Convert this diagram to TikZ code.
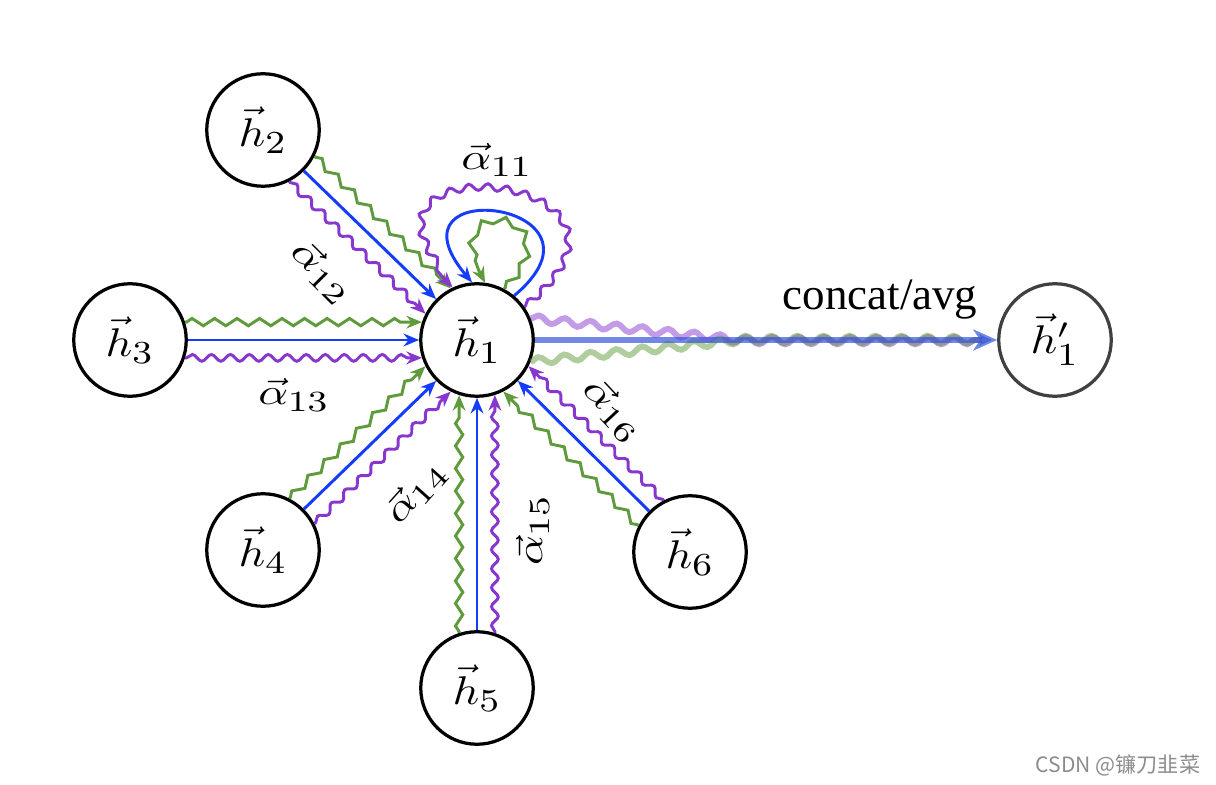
\documentclass[tikz,border=0pt]{standalone}
\usepackage{amsmath}
\usepackage{graphicx}
\usepackage{fontspec}
\newfontfamily\cjkfont{Noto Sans CJK SC}
\newfontfamily\timesfont{Liberation Serif}
\newcommand\idx[1]{_{\mbox{\fontsize{8}{9}\selectfont$#1$}}}
\newcommand\hv[2][]{\scalebox{3.3}[2.85]{$\vec{h}#1\idx{#2}$}}
\newcommand\av[1]{\scalebox{3.3}[2.6]{$\vec{\alpha}\idx{#1}$}}
\usetikzlibrary{arrows.meta,decorations.pathmorphing}
\definecolor{hblue}{RGB}{20,60,250}
\definecolor{hgreen}{RGB}{95,155,60}
\definecolor{hpurple}{RGB}{135,55,205}
\definecolor{oblue}{RGB}{55,85,215}

\begin{document}
\begin{tikzpicture}[x=.025cm,y=.025cm,
  vert/.style={circle,draw,line width=2.3pt,minimum size=80pt,inner sep=0pt},
  tip/.style={-{Stealth[length=11pt,width=9pt,inset=3.5pt]}},
  bluee/.style={tip,hblue,line width=2.1pt},
  greene/.style={tip,hgreen,line width=2.1pt,decorate,decoration={zigzag,segment length=16pt,amplitude=2.6pt,pre length=1pt,post length=10pt}},
  purplee/.style={tip,hpurple,line width=2.1pt,decorate,decoration={snake,segment length=13.5pt,amplitude=2.4pt,pre length=1pt,post length=10pt}},
  outw/.style={line width=4.2pt,opacity=.5,decorate,decoration={snake,segment length=18.5pt,amplitude=2.6pt}}]
\useasboundingbox (0,0) rectangle (1216,784);
\node[vert] (h1) at (477,444) {\hv{1}};
\node[vert] (h2) at (263,654) {\hv{2}};
\node[vert] (h3) at (130,444) {\hv{3}};
\node[vert] (h4) at (263,234) {\hv{4}};
\node[vert] (h5) at (477,96) {\hv{5}};
\node[vert] (h6) at (690,232) {\hv{6}};
\node[vert,draw=black!75] (h1p) at (1055,444) {\hv[']{1}};
\foreach \s/\a in {h2/135,h3/180,h4/225,h5/270,h6/315}{
  \pgfmathtruncatemacro\b{mod(\a+180,360)}
  \pgfmathtruncatemacro\gs{mod(\b+18,360)}
  \pgfmathtruncatemacro\ge{mod(\a+342,360)}
  \pgfmathtruncatemacro\ps{mod(\b+342,360)}
  \pgfmathtruncatemacro\pe{mod(\a+18,360)}
  \draw[bluee] (\s.\b) -- (h1.\a);
  \draw[greene] (\s.\gs) -- (h1.\ge);
  \draw[purplee] (\s.\ps) -- (h1.\pe);
}
\draw[purplee] (h1.35) .. controls +(40:210) and +(135:210) .. (h1.115);
\draw[bluee] (h1.50) .. controls +(40:145) and +(130:145) .. (h1.95);
\draw[greene] (h1.62) .. controls +(45:110) and +(120:110) .. (h1.82);
\node (a11) at (497,624) {\av{11}};
\node[rotate=-45] (a12) at (322,512) {\av{12}};
\node (a13) at (294,389) {\av{13}};
\node[rotate=48] (a14) at (416,292) {\av{14}};
\node[rotate=90] (a15) at (533,254) {\av{15}};
\node[rotate=-47] (a16) at (613,374) {\av{16}};
\coordinate (mp) at (740,444);
\coordinate (oe) at (982,444);
\draw[outw,hpurple] (h1.22) -- (mp) -- (oe);
\draw[outw,hgreen] (h1.338) -- (mp) -- (oe);
\draw[oblue,line width=3.6pt,opacity=.7,-{Stealth[length=17pt,width=15pt,inset=5pt]}] (h1.east) -- (h1p.west);
\node[font=\timesfont\fontsize{32}{38}\selectfont] (cat) at (880,484) {concat/avg};
\node[font=\cjkfont\fontsize{15}{18}\selectfont,text=black!45] (wm) at (1118,19) {CSDN @镰刀韭菜};
\end{tikzpicture}
\end{document}
